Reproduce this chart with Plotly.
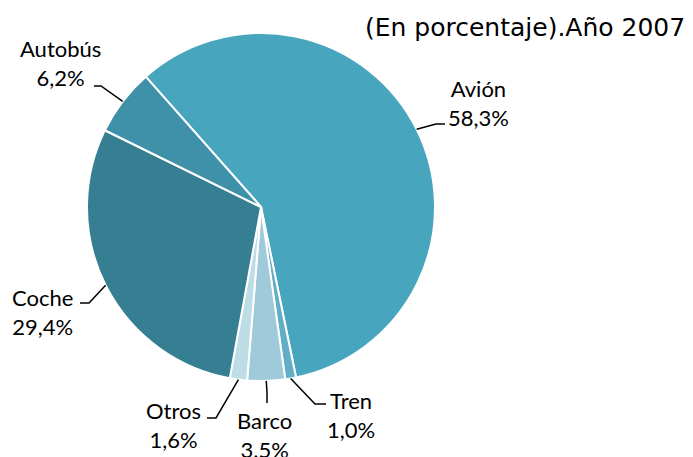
import math
import plotly.graph_objects as go

# data
modos = ["Avión", "Tren", "Barco", "Otros", "Coche", "Autobús"]
porcentajes = [58.3, 1.0, 3.5, 1.6, 29.4, 6.2]
etiquetas = ["58,3%", "1,0%", "3.5%", "1,6%", "29,4%", "6,2%"]
colores = ["#47A5BE", "#62AEC6", "#9ECAD9", "#BEDCE5", "#367E91", "#3F91A9"]

W, H = 693, 457
cx, cy, R = 261, 207, 174
ROT = -41.5

# label layout (pixel positions): text centre, elbow, end of leader line
label_pos = {
    "Avión":   dict(text=(478, 103), elbow=(436, 124), end=(445, 124)),
    "Tren":    dict(text=(351, 415), elbow=(315, 404), end=(326, 404)),
    "Barco":   dict(text=(264, 435), elbow=(267, 392), end=(267, 403)),
    "Otros":   dict(text=(173, 425), elbow=(216, 418), end=(207, 418)),
    "Coche":   dict(text=(42, 312), elbow=(89, 303), end=(80, 303)),
    "Autobús": dict(text=(61, 63), elbow=(101, 86), end=(94, 86)),
}

def px2paper(x, y):
    return x / W, 1 - y / H

fig = go.Figure(go.Pie(
    labels=modos,
    values=porcentajes,
    sort=False,
    direction="clockwise",
    rotation=ROT,
    marker=dict(colors=colores, line=dict(color="white", width=2)),
    textinfo="none",
    hoverinfo="label+percent",
    showlegend=False,
    domain=dict(x=[(cx - R) / W, (cx + R) / W], y=[1 - (cy + R) / H, 1 - (cy - R) / H]),
))

total = sum(porcentajes)
acum = 0
shapes = []
annotations = []
for modo, val, txt in zip(modos, porcentajes, etiquetas):
    mid = ROT + (acum + val / 2) / total * 360
    acum += val
    a = math.radians(mid)
    sx, sy = cx + R * math.sin(a), cy - R * math.cos(a)
    p = label_pos[modo]
    x0, y0 = px2paper(sx, sy)
    x1, y1 = px2paper(*p["elbow"])
    x2, y2 = px2paper(*p["end"])
    shapes.append(dict(type="path", xref="paper", yref="paper",
                       path=f"M {x0} {y0} L {x1} {y1} L {x2} {y2}",
                       line=dict(color="black", width=1.5)))
    tx, ty = px2paper(*p["text"])
    annotations.append(dict(x=tx, y=ty, xref="paper", yref="paper",
                            text=f"{modo}<br>{txt}", showarrow=False,
                            font=dict(family="Lato", size=22, color="black"),
                            align="center", xanchor="center", yanchor="middle"))

annotations.append(dict(x=687 / W, y=1 - 28 / H, xref="paper", yref="paper",
                        text="(En porcentaje).Año 2007", showarrow=False,
                        font=dict(family="DejaVu Sans", size=25, color="black"),
                        xanchor="right", yanchor="middle"))

fig.update_layout(
    width=W, height=H,
    margin=dict(l=0, r=0, t=0, b=0),
    paper_bgcolor="white",
    shapes=shapes,
    annotations=annotations,
)

fig.write_html("out.html", config={"displayModeBar": False},
               post_script="document.body.style.margin='0';")
